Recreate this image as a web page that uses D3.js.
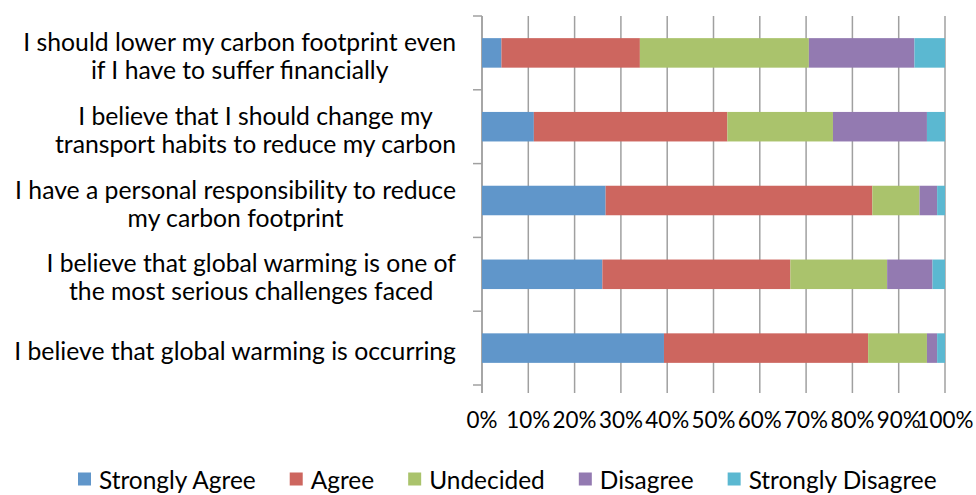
<!DOCTYPE html>
<html>
<head>
<meta charset="utf-8">
<script src="https://cdn.jsdelivr.net/npm/d3@7"></script>
<style>
  html, body { margin: 0; padding: 0; background: #fff; }
  svg { display: block; }
  text { font-family: Lato, "Open Sans", "Liberation Sans", sans-serif; fill: #000; }
</style>
</head>
<body>
<svg id="chart" width="976" height="495"></svg>
<script>
// ---- data ----
const categories = [
  "I should lower my carbon footprint even if I have to suffer financially",
  "I believe that I should change my transport habits to reduce my carbon",
  "I have a personal responsibility to reduce my carbon footprint",
  "I believe that global warming is one of the most serious challenges faced",
  "I believe that global warming is occurring"
];
const categoryLines = [
  ["I should lower my carbon footprint even", "if I have to suffer financially"],
  ["I believe that I should change my", "transport habits to reduce my carbon"],
  ["I have a personal responsibility to reduce", "my carbon footprint"],
  ["I believe that global warming is one of", "the most serious challenges faced"],
  ["I believe that global warming is occurring"]
];
const seriesNames = ["Strongly Agree", "Agree", "Undecided", "Disagree", "Strongly Disagree"];
const stronglyAgree    = [4.2, 11.2, 26.7, 26.0, 39.3];
const agree            = [29.9, 41.8, 57.6, 40.6, 44.1];
const undecided        = [36.5, 22.8, 10.2, 20.9, 12.7];
const disagree         = [22.8, 20.3, 3.8, 9.8, 2.2];
const stronglyDisagree = [6.6, 3.9, 1.7, 2.7, 1.7];
const tickValues = [0, 0.1, 0.2, 0.3, 0.4, 0.5, 0.6, 0.7, 0.8, 0.9, 1.0];
const colors = ["#6096CA", "#CD665F", "#AAC36C", "#937AB1", "#5BB8D1"];

// ---- build table ----
const seriesValues = [stronglyAgree, agree, undecided, disagree, stronglyDisagree];
const table = categories.map((c, i) => {
  const row = { category: c };
  seriesNames.forEach((s, j) => row[s] = seriesValues[j][i]);
  return row;
});
const stacked = d3.stack().keys(seriesNames).offset(d3.stackOffsetExpand)(table);

// ---- layout ----
const svg = d3.select("#chart");
const plot = { left: 482, right: 945, top: 16, bottom: 385 };
const x = d3.scaleLinear().domain([0, 1]).range([plot.left, plot.right]);
const y = d3.scaleBand().domain(categories).range([plot.top, plot.bottom])
  .paddingInner(0.6).paddingOuter(0.3);
const step = y.step();
const gridColor = "#A0A0A0";

// font fitting helper
function fitSize(str, targetWidth) {
  const t = svg.append("text").attr("font-size", 100).text(str);
  const w = t.node().getComputedTextLength();
  t.remove();
  return 100 * targetWidth / w;
}
const labelSize = fitSize("I believe that global warming is occurring", 442);
const tickSize = fitSize("10%", 44);
const legendSize = fitSize("Strongly Disagree", 188);

// gridlines (extend below as tick marks)
svg.append("g").selectAll("line").data(tickValues).join("line")
  .attr("x1", d => x(d)).attr("x2", d => x(d))
  .attr("y1", plot.top).attr("y2", plot.bottom + 8)
  .attr("stroke", gridColor).attr("stroke-width", 1.5);

// vertical axis line & tick marks
svg.append("line")
  .attr("x1", x(0)).attr("x2", x(0))
  .attr("y1", plot.top).attr("y2", plot.bottom + 8)
  .attr("stroke", gridColor).attr("stroke-width", 1.5);
const yTicks = d3.range(categories.length + 1).map(i => plot.top + i * step);
svg.append("g").selectAll("line").data(yTicks).join("line")
  .attr("x1", x(0) - 9).attr("x2", x(0))
  .attr("y1", d => d).attr("y2", d => d)
  .attr("stroke", gridColor).attr("stroke-width", 1.5);

// bars
svg.append("g").selectAll("g").data(stacked).join("g")
  .attr("fill", (d, i) => colors[i])
  .selectAll("rect").data(d => d).join("rect")
  .attr("x", d => x(d[0]))
  .attr("width", d => x(d[1]) - x(d[0]))
  .attr("y", d => y(d.data.category))
  .attr("height", y.bandwidth());

// x tick labels
svg.append("g").selectAll("text").data(tickValues).join("text")
  .attr("x", d => x(d)).attr("y", 428)
  .attr("text-anchor", "middle")
  .attr("font-size", tickSize)
  .text(d => d3.format(".0%")(d));

// category labels
const labelRight = 456;
const lineH = 28;
categories.forEach((c, i) => {
  const lines = categoryLines[i];
  const g = svg.append("g");
  const texts = lines.map((ln, k) => g.append("text")
    .attr("font-size", labelSize)
    .attr("text-anchor", "middle")
    .attr("y", y(c) + y.bandwidth() / 2 + 12 + (k - (lines.length - 1) / 2) * lineH)
    .text(ln));
  const maxW = d3.max(texts, t => t.node().getComputedTextLength());
  texts.forEach(t => t.attr("x", labelRight - maxW / 2));
});

// legend
const legend = svg.append("g");
let lx = 78;
const sq = 13, legendCy = 480;
seriesNames.forEach((s, i) => {
  legend.append("rect")
    .attr("x", lx).attr("y", legendCy - sq / 2 - 1)
    .attr("width", sq).attr("height", sq)
    .attr("fill", colors[i]);
  const t = legend.append("text")
    .attr("x", lx + sq + 8).attr("y", legendCy + 9)
    .attr("font-size", legendSize)
    .text(s);
  lx += sq + 8 + t.node().getComputedTextLength() + 34;
});
</script>
</body>
</html>
